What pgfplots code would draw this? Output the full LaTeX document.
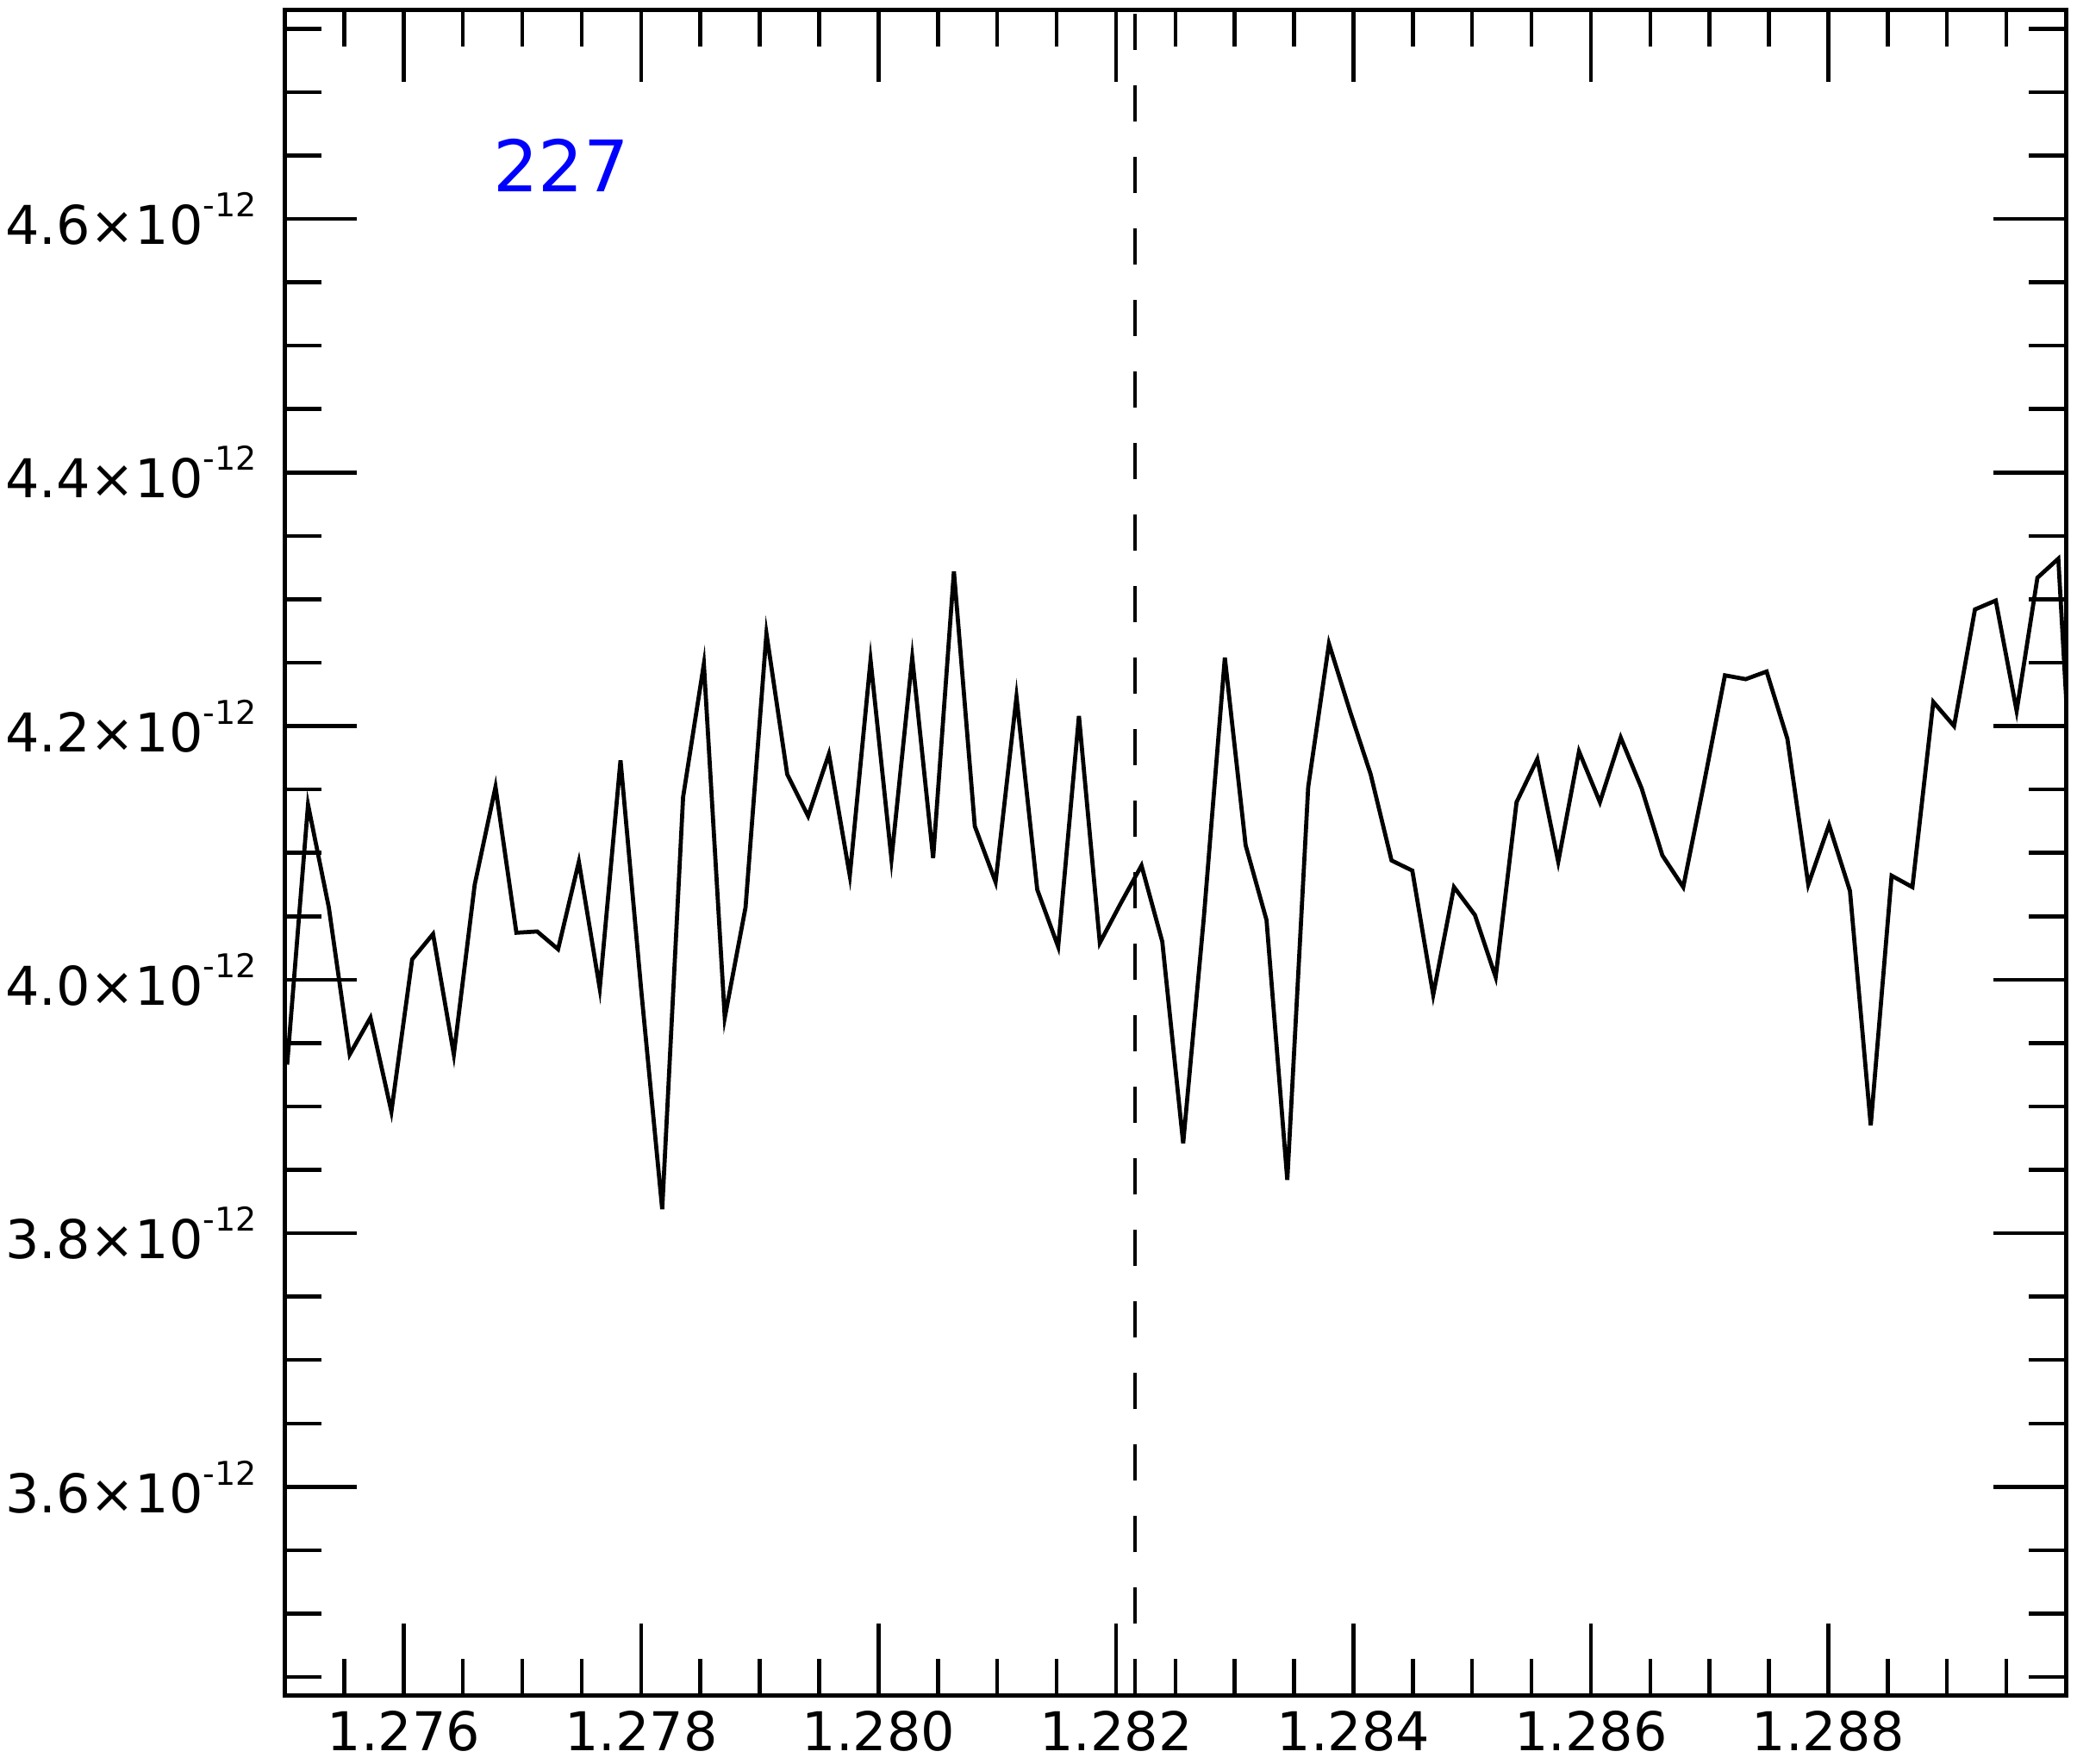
\documentclass[border=0pt]{standalone}
\usepackage{fontspec}
\setmainfont{DejaVu Sans}
\usepackage{pgfplots}
\pgfplotsset{compat=1.18}

% flux in units of 1e-12
\newcommand{\sci}[1]{#1×10\raisebox{6.4pt}{\fontsize{7.6}{8}\selectfont -12}}

\begin{document}
\begin{tikzpicture}
\begin{axis}[
    scale only axis,
    width=413.2pt, height=391pt,
    xmin=1.275, xmax=1.290,
    ymin=3.4355, ymax=4.7645,
    axis line style={line width=1pt},
    tick align=inside,
    xtick pos=both, ytick pos=both,
    every tick/.style={black, line width=0.9pt},
    major tick length=16.7pt,
    minor tick length=8.5pt,
    xtick={1.276,1.278,1.280,1.282,1.284,1.286,1.288},
    xticklabels={1.276,1.278,1.280,1.282,1.284,1.286,1.288},
    minor xtick={1.2755,1.2760,...,1.2900},
    ytick={3.6,3.8,4.0,4.2,4.4,4.6},
    yticklabels={\sci{3.6},\sci{3.8},\sci{4.0},\sci{4.2},\sci{4.4},\sci{4.6}},
    minor ytick={3.45,3.50,...,4.76},
    ticklabel style={font=\fontsize{12.4}{14}\selectfont},
    yticklabel style={xshift=-3pt},
]
\addplot[black, line width=0.95pt] coordinates {
(1.275019,3.933) (1.275195,4.138) (1.275370,4.057) (1.275546,3.941) (1.275721,3.970)
(1.275897,3.896) (1.276072,4.016) (1.276248,4.036) (1.276423,3.941) (1.276599,4.075)
(1.276774,4.152) (1.276950,4.037) (1.277125,4.038) (1.277301,4.024) (1.277476,4.093)
(1.277652,3.993) (1.277827,4.173) (1.278003,3.990) (1.278178,3.819) (1.278354,4.144)
(1.278529,4.249) (1.278705,3.970) (1.278880,4.057) (1.279056,4.273) (1.279231,4.162)
(1.279407,4.129) (1.279582,4.178) (1.279758,4.082) (1.279933,4.252) (1.280109,4.095)
(1.280284,4.254) (1.280460,4.096) (1.280635,4.322) (1.280811,4.121) (1.280986,4.077)
(1.281162,4.223) (1.281337,4.071) (1.281513,4.026) (1.281688,4.208) (1.281864,4.029)
(1.282039,4.060) (1.282215,4.090) (1.282390,4.030) (1.282566,3.871) (1.282741,4.050)
(1.282917,4.254) (1.283092,4.106) (1.283268,4.047) (1.283443,3.842) (1.283619,4.152)
(1.283794,4.265) (1.283970,4.212) (1.284145,4.162) (1.284321,4.094) (1.284496,4.086)
(1.284672,3.988) (1.284847,4.073) (1.285023,4.051) (1.285198,4.002) (1.285374,4.140)
(1.285549,4.174) (1.285725,4.093) (1.285900,4.180) (1.286076,4.140) (1.286251,4.191)
(1.286427,4.151) (1.286602,4.098) (1.286778,4.073) (1.286953,4.155) (1.287129,4.240)
(1.287304,4.237) (1.287480,4.243) (1.287655,4.190) (1.287831,4.075) (1.288006,4.122)
(1.288182,4.070) (1.288357,3.885) (1.288533,4.082) (1.288708,4.073) (1.288884,4.219)
(1.289059,4.200) (1.289235,4.292) (1.289410,4.299) (1.289586,4.212) (1.289761,4.317)
(1.289937,4.332) (1.290112,4.040)
};
% Pa beta
\addplot[black, line width=0.95pt, dash pattern=on 8.4pt off 8.2pt] coordinates {(1.28216,3.4355) (1.28216,4.7645)};
\node[text={rgb,255:red,0;green,0;blue,255}, font=\fontsize{16.5}{18}\selectfont]
    at (axis description cs:0.155,0.908) {227};
\end{axis}
\pgfresetboundingbox
\path (current axis.south west) ++(-66.1pt,-15.8pt) coordinate (bl);
\path (current axis.north east) ++(2.6pt,2.4pt) coordinate (tr);
\path[use as bounding box] (bl) rectangle (tr);
\end{tikzpicture}
\end{document}
